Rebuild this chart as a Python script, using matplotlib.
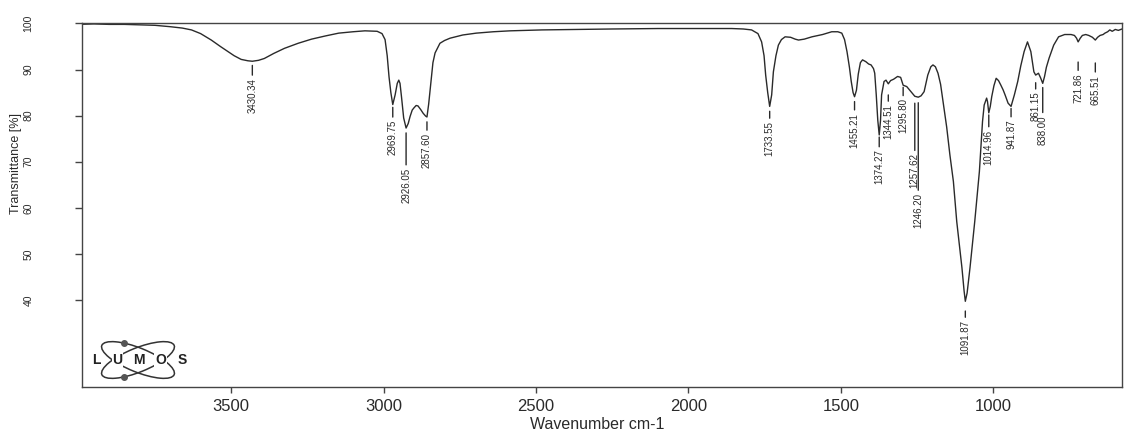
"""
FT-IR transmittance spectrum with labelled absorption bands (OPUS/LUMOS style)
"""
import numpy as np
import matplotlib
matplotlib.use("Agg")
import matplotlib.pyplot as plt
from matplotlib.patches import Ellipse

plt.rcParams["font.family"] = ["Liberation Sans", "DejaVu Sans"]

# Spectrum: wavenumber (cm-1) and transmittance (%)
wavenumber = [
    4000, 3950, 3900, 3850, 3800, 3750, 3700, 3660, 3630, 3600,
    3565, 3535, 3510, 3490, 3467, 3445, 3430.34, 3410, 3391, 3360,
    3325, 3280, 3236, 3190, 3147, 3100, 3061, 3021, 3005, 2995,
    2988, 2982, 2976, 2969.75, 2962, 2955, 2950, 2946, 2941, 2934,
    2926.05, 2919, 2913, 2906, 2900, 2893, 2887, 2878, 2870, 2862,
    2857.60, 2852, 2845, 2838, 2831, 2815, 2800, 2782, 2740, 2696,
    2640, 2585, 2480, 2370, 2250, 2100, 1950, 1858, 1820, 1793,
    1772, 1760, 1752, 1746.7, 1740, 1733.55, 1727, 1721.4, 1713, 1705,
    1695, 1683, 1665, 1650, 1639, 1620, 1595, 1560, 1530, 1510,
    1497, 1488, 1480, 1472, 1466, 1460, 1455.21, 1449, 1443, 1436,
    1429, 1418, 1409, 1401, 1393, 1389, 1384, 1379, 1374.27, 1370,
    1366.5, 1358.5, 1352, 1344.51, 1337, 1327, 1314, 1304, 1295.80, 1284,
    1270, 1257.62, 1246.20, 1237, 1227, 1215, 1205, 1198, 1190, 1181.5,
    1173, 1164.7, 1153, 1142.5, 1131, 1120, 1103, 1096, 1091.87, 1086,
    1076.5, 1061, 1045.7, 1035.5, 1030, 1022, 1019, 1014.96, 1010, 1005.3,
    998, 990.7, 983, 976, 968, 961.5, 951.6, 941.87, 931, 920,
    910, 899, 888, 877, 867, 861.15, 852, 845, 838.00, 832,
    826, 817, 802, 786, 766, 745, 734, 727, 721.86, 715,
    708, 697, 687, 675, 665.51, 658, 650, 640, 634, 625,
    618, 610, 600, 590, 578,
]
transmittance = [
    99.8, 99.9, 99.8, 99.8, 99.7, 99.6, 99.3, 99.0, 98.6, 97.8,
    96.4, 95.0, 93.9, 93.0, 92.2, 91.9, 91.8, 92.0, 92.4, 93.5,
    94.6, 95.7, 96.6, 97.3, 97.9, 98.2, 98.4, 98.3, 97.8, 96.5,
    93.0, 88.4, 85.0, 82.4, 84.5, 87.0, 87.7, 87.0, 84.0, 79.5,
    77.3, 78.3, 79.8, 81.2, 81.7, 82.2, 82.1, 81.3, 80.5, 79.9,
    79.7, 82.5, 87.0, 91.5, 93.6, 95.7, 96.3, 96.8, 97.5, 97.9,
    98.2, 98.4, 98.6, 98.7, 98.8, 98.9, 98.9, 98.9, 98.8, 98.6,
    97.8, 96.0, 93.0, 88.8, 85.0, 82.0, 84.5, 89.5, 93.0, 95.3,
    96.5, 97.1, 97.0, 96.6, 96.4, 96.6, 97.1, 97.6, 98.2, 98.2,
    97.9, 96.5, 93.9, 90.5, 87.4, 85.0, 84.1, 85.5, 89.0, 91.5,
    92.1, 91.7, 91.2, 91.0, 90.2, 89.2, 84.5, 79.0, 75.8, 79.0,
    84.5, 87.4, 87.7, 86.9, 87.6, 87.9, 88.5, 88.3, 86.6, 86.3,
    85.2, 84.2, 84.0, 84.3, 85.2, 88.8, 90.6, 91.0, 90.6, 89.2,
    86.8, 83.0, 77.5, 71.5, 65.7, 57.0, 47.0, 42.0, 39.7, 41.5,
    47.0, 57.0, 67.9, 78.7, 82.3, 83.8, 83.0, 80.6, 82.0, 84.1,
    86.5, 88.1, 87.6, 86.7, 85.6, 84.5, 82.7, 82.0, 84.5, 87.4,
    90.8, 93.9, 96.0, 93.9, 89.5, 88.8, 89.2, 88.2, 87.0, 88.5,
    90.5, 92.5, 95.3, 97.1, 97.6, 97.6, 97.4, 96.8, 96.0, 96.8,
    97.4, 97.6, 97.4, 97.0, 96.4, 97.0, 97.4, 97.6, 97.9, 98.2,
    98.6, 98.3, 98.7, 98.5, 98.8,
]

# Picked bands
peaks = [3430.34, 2969.75, 2926.05, 2857.60, 1733.55, 1455.21, 1374.27,
         1344.51, 1295.80, 1257.62, 1246.20, 1091.87, 1014.96, 941.87,
         861.15, 838.00, 721.86, 665.51]

# gap below the band and leader length, in points
leaders = [(3, 7), (2, 7), (3.5, 23), (3.5, 6), (3.5, 5), (3.5, 6), (1.5, 7),
           (8, 4.5), (1.5, 6), (5, 34), (4, 63), (7, 4.5), (1.5, 8.5),
           (1.5, 6), (5.5, 4.5), (3, 18), (14.5, 6), (16.5, 6.5)]

ink = "#2a2a2a"

fig = plt.figure(figsize=(11.25, 4.32), dpi=100)
ax = fig.add_axes([82 / 1125, 1 - 387 / 432, 1040 / 1125, 364 / 432])

ax.plot(wavenumber, transmittance, color=ink, lw=1.0)

ax.set_xlim(3989, 578)
ax.set_ylim(21.1, 100.1)
ax.set_xticks([3500, 3000, 2500, 2000, 1500, 1000])
ax.set_yticks([40, 50, 60, 70, 80, 90, 100])

for s in ax.spines.values():
    s.set_color("#444444")
    s.set_linewidth(1.0)

ax.tick_params(axis="x", direction="out", length=4.5, width=1, colors="#444444",
               labelcolor=ink, labelsize=12, pad=4)
ax.tick_params(axis="y", direction="out", length=5, width=1, colors="#444444",
               labelcolor=ink, labelsize=7.5, pad=30, labelrotation=90)
for lab in ax.get_yticklabels():
    lab.set_va("center")

ax.set_xlabel("Wavenumber cm-1", fontsize=11.5, color=ink)
ax.xaxis.set_label_coords(0.495, -0.083)
ax.set_ylabel("Transmittance [%]", fontsize=9, color=ink)
ax.yaxis.set_label_coords(-0.058, 0.615)

# band labels: short leader under each band, value written vertically
for p, (gap, lead) in zip(peaks, leaders):
    t = transmittance[wavenumber.index(p)]
    ax.annotate("", xy=(p, t), xycoords="data",
                xytext=(0, -(gap + lead)), textcoords="offset points",
                arrowprops=dict(arrowstyle="-", color=ink, lw=1.0,
                                shrinkA=0, shrinkB=gap))
    ax.annotate(f"{p:.2f}", xy=(p, t), xycoords="data",
                xytext=(0, -(gap + lead + 2)), textcoords="offset points",
                rotation=90, ha="center", va="top", fontsize=7, color=ink)

# instrument logo
lax = fig.add_axes([90 / 1125, 1 - 385 / 432, 100 / 1125, 50 / 432])
lax.set_xlim(0, 100)
lax.set_ylim(0, 50)
lax.axis("off")
for ang in (-22, 22):
    lax.add_patch(Ellipse((48, 25), 78, 24, angle=ang, fill=False,
                          ec="#333333", lw=1.1))
for ang, tt in ((-22, 120), (22, 240)):
    a, tr = np.radians(ang), np.radians(tt)
    px = 48 + 39 * np.cos(tr) * np.cos(a) - 12 * np.sin(tr) * np.sin(a)
    py = 25 + 39 * np.cos(tr) * np.sin(a) + 12 * np.sin(tr) * np.cos(a)
    lax.plot(px, py, "o", ms=4, color="#555555")
for i, ch in enumerate("LUMOS"):
    lax.text(6 + i * 21.5, 25, ch, ha="center", va="center", fontsize=10,
             fontweight="bold", color="#222222",
             bbox=dict(boxstyle="square,pad=0.05", fc="white", ec="none"))

fig.savefig("out.png", dpi=100, facecolor="white")
